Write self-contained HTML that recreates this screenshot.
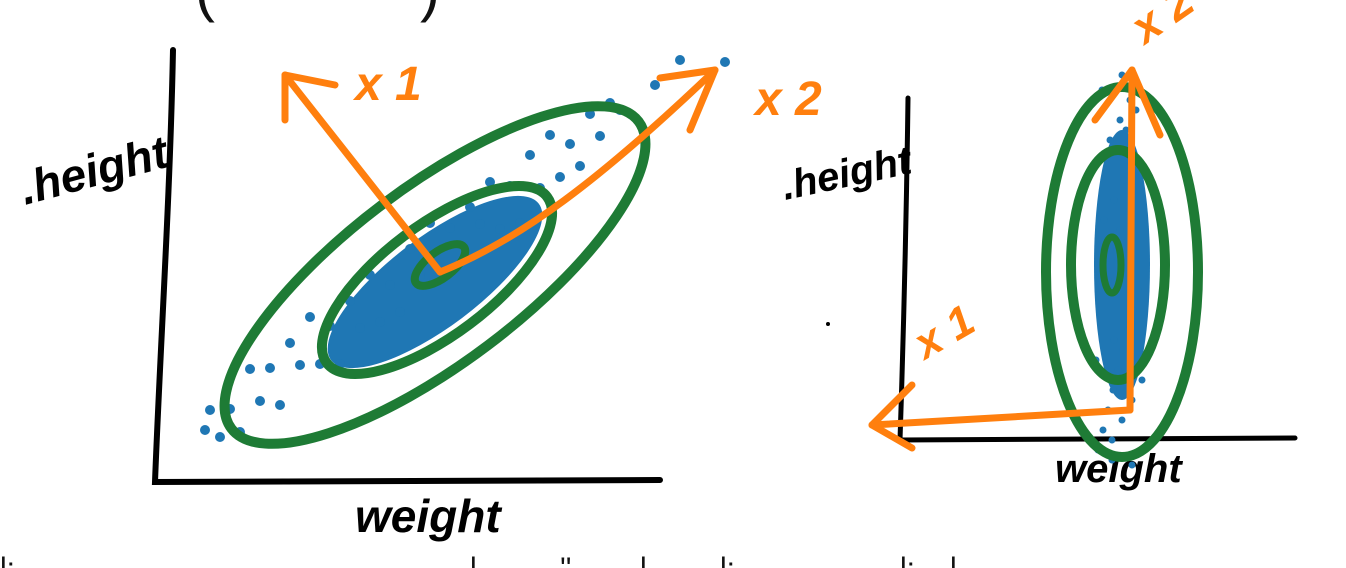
<!DOCTYPE html>
<html><head><meta charset="utf-8"><style>
html,body{margin:0;padding:0;background:#fff;}
svg{display:block;}
text{font-family:"Liberation Sans",sans-serif;}
</style></head><body>
<svg id="chart" width="1346" height="568" viewBox="0 0 1346 568">
  <text x="195" y="10" font-size="60" fill="#111">(</text>
  <text x="420" y="10" font-size="60" fill="#111">)</text>
  <g id="left-plot">
    <path d="M173,50 C170,200 160,350 155,482 L660,480" stroke="#000" stroke-width="6" fill="none" stroke-linecap="round"/>
    <text x="0" y="0" transform="translate(25,205) rotate(-15)" font-size="46" font-weight="bold" font-style="italic" fill="#000">.height</text>
    <text x="355" y="532" font-size="46" font-weight="bold" font-style="italic" fill="#000">weight</text>
  </g>
  <g id="right-plot">
    <path d="M908,98 C906,250 903,350 900,440 L1295,438" stroke="#000" stroke-width="5" fill="none" stroke-linecap="round"/>
    <text x="0" y="0" transform="translate(785,200) rotate(-12)" font-size="40" font-weight="bold" font-style="italic" fill="#000">.height</text>
    <text x="1055" y="482" font-size="40" font-weight="bold" font-style="italic" fill="#000">weight</text>
    <circle cx="828" cy="324" r="2" fill="#000"/>
  </g>
  <g font-size="30" fill="#111">
    <text x="0" y="578">l:</text><text x="470" y="578">l</text><text x="560" y="578">''</text><text x="640" y="578">l</text><text x="720" y="578">l:</text><text x="900" y="578">l:</text><text x="950" y="578">l</text>
  </g>
</svg>
<script>
const leftWeights = [0,10,20,30,40,50,60,70,80,90,100,110,120,130,140,150,160,170,180,190,200,210,220,230,240,250,260,270,280,290,300,310,320,330,340,350,360,370,380,390,400,410,-5,470,515,445];
const leftHeights = [30,3,31,8,71,39,72,35,97,75,123,76,114,76,139,112,165,118,155,128,191,164,217,169,212,175,233,216,258,211,254,217,285,252,305,263,296,274,326,304,337,330,10,380,378,355];
const rightWeights = [-20,-15,-10,-5,0,5,10,15,20,-18,-8,2,12,22,-12,-2,8,18,-16,-6,4,14,24,-22,-4,6,16,-10,0,10,-14,-4,6,16,-8,2,12,-6,4,14];
const rightHeights = [20,40,60,80,100,120,140,160,180,200,220,240,260,280,300,320,340,360,380,30,50,70,90,110,130,150,170,190,210,230,250,270,290,310,330,350,370,10,395,5];
const lx = w => 210 + w;
const ly = h => 440 - h;
const rx = w => 1118 + w;
const ry = h => 470 - h;
const NS = 'http://www.w3.org/2000/svg';
const lp = document.getElementById('left-plot');
const rp = document.getElementById('right-plot');
function mk(tag, attrs, parent){const e=document.createElementNS(NS,tag);for(const k in attrs)e.setAttribute(k,attrs[k]);parent.appendChild(e);return e;}

let e = mk('ellipse',{cx:435,cy:282,rx:130,ry:45,transform:'rotate(-37 435 282)',fill:'#1f77b4'},lp);


leftWeights.forEach((w,i)=>{
  const c = mk('circle',{cx:lx(w),cy:ly(leftHeights[i]),r:5,fill:'#1f77b4'},lp);
  
  
});
[[435,275,255,88,10],[437,280,138,55,10],[440,265,30,13,8]].forEach(([cx,cy,a,b,sw])=>{
  const c = mk('ellipse',{cx:cx,cy:cy,rx:a,ry:b,transform:`rotate(-37 ${cx} ${cy})`,fill:'none',stroke:'#1e7b35','stroke-width':sw},lp);
  
  
});
e = mk('ellipse',{cx:1122,cy:265,rx:28,ry:135,fill:'#1f77b4'},rp);


rightWeights.forEach((w,i)=>{
  const c = mk('circle',{cx:rx(w),cy:ry(rightHeights[i]),r:3.5,fill:'#1f77b4'},rp);
  
  
});
[[1122,272,76,185,10],[1118,265,47,115,10],[1112,265,9,28,7]].forEach(([cx,cy,a,b,sw])=>{
  const c = mk('ellipse',{cx:cx,cy:cy,rx:a,ry:b,fill:'none',stroke:'#1e7b35','stroke-width':sw},rp);
  
  
});
const O='#ff7f0e';
function arrow(parent,d,head,name){
  const p=mk('path',{d:d,stroke:O,'stroke-width':7,fill:'none','stroke-linecap':'round','stroke-linejoin':'round'},parent);
  
  
  const h=mk('path',{d:head,stroke:O,'stroke-width':7,fill:'none','stroke-linecap':'round','stroke-linejoin':'round'},parent);
  
  
}
arrow(lp,'M440,272 L285,75','M285,120 L285,75 L335,85','left-pc1-arrow');
arrow(lp,'M440,272 C520,240 600,180 715,70','M660,78 L715,70 L690,130','left-pc2-arrow');
arrow(rp,'M1130,410 L1132,70','M1095,120 L1132,70 L1160,135','right-pc2-arrow');
arrow(rp,'M1130,410 L872,425','M912,385 L872,425 L912,448','right-pc1-arrow');
function lab(parent,x,y,rot,txt,size,name){
  const t=mk('text',{x:0,y:0,transform:`translate(${x},${y}) rotate(${rot})`,'font-size':size,fill:O,'font-style':'italic','font-weight':'bold'},parent);
  t.textContent=txt;
  
  
}
lab(lp,355,100,0,'x 1',48,'left-pc1-label');
lab(lp,755,115,0,'x 2',48,'left-pc2-label');
lab(rp,1145,45,-35,'x 2',46,'right-pc2-label');
lab(rp,925,360,-30,'x 1',44,'right-pc1-label');
</script>
</body></html>
